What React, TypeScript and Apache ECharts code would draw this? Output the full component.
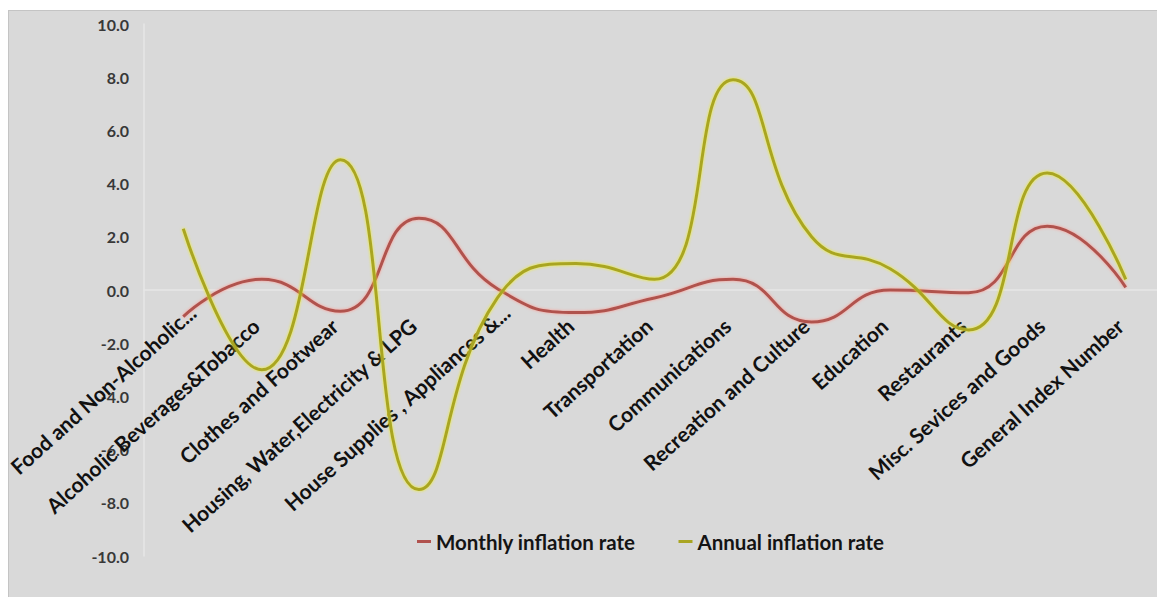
import React, { useEffect, useRef } from "react";
import * as echarts from "echarts";

const categories = [
  "Food and Non-Alcoholic...",
  "Alcoholic Beverages&Tobacco",
  "Clothes and Footwear",
  "Housing, Water,Electricity & LPG",
  "House Supplies , Appliances &...",
  "Health",
  "Transportation",
  "Communications",
  "Recreation and Culture",
  "Education",
  "Restaurants",
  "Misc. Sevices and Goods",
  "General Index Number",
];

const monthlyRate = [-1.0, 0.4, -0.8, 2.7, 0.05, -0.85, -0.3, 0.4, -1.2, 0.0, -0.1, 2.4, 0.1];
const annualRate = [2.3, -3.0, 4.9, -7.5, -0.3, 1.0, 0.4, 7.9, 2.0, 0.8, -1.5, 4.4, 0.4];

const yMin = -10;
const yMax = 10;
const yStep = 2;

export default function App() {
  const ref = useRef<HTMLDivElement>(null);

  useEffect(() => {
    if (!ref.current) return;
    const chart = echarts.init(ref.current, undefined, { renderer: "svg" });
    const gridTop = 13;
    const gridBottom = 41;
    const plotH = 586 - gridTop - gridBottom;
    const zeroOffset = -plotH * ((0 - yMin) / (yMax - yMin));
    // truncated labels (ending in "...") sit a little further along their baseline
    const categoryItems = categories.map((c) =>
      c.endsWith("...") ? { value: c, textStyle: { padding: [0, -12, 0, 0] } } : c
    );
    chart.setOption({
      animation: false,
      backgroundColor: "transparent",
      textStyle: { fontFamily: "Lato" },
      legend: {
        left: 408,
        top: 520,
        padding: 0,
        icon: "rect",
        itemWidth: 14,
        itemHeight: 3,
        itemGap: 43,
        textStyle: { fontFamily: "Lato", fontWeight: "bold", fontSize: 20.5, color: "#141414" },
        data: ["Monthly inflation rate", "Annual inflation rate"],
      },
      grid: { left: 135, right: -8, top: gridTop, bottom: gridBottom, containLabel: false, outerBoundsMode: "none" },
      xAxis: {
        type: "category",
        data: categoryItems,
        boundaryGap: true,
        offset: zeroOffset,
        axisLine: { show: true, onZero: false, lineStyle: { color: "#E6E6E6", width: 1.5 } },
        axisTick: { show: false },
        splitLine: { show: false },
        axisLabel: {
          interval: 0,
          rotate: 42,
          margin: 27,
          padding: [0, 8, 0, 0],
          fontFamily: "Lato",
          fontWeight: "bold",
          fontSize: 21,
          color: "#111111",
        },
      },
      yAxis: {
        type: "value",
        min: yMin,
        max: yMax,
        interval: yStep,
        axisLine: { show: true, lineStyle: { color: "#E6E6E6", width: 1.5 } },
        axisTick: { show: false },
        splitLine: { show: false },
        axisLabel: {
          margin: 15,
          fontFamily: "Lato",
          fontWeight: "bold",
          fontSize: 16,
          color: "#383838",
          formatter: (v: number) => v.toFixed(1),
        },
      },
      series: [
        {
          name: "Monthly inflation rate",
          type: "line",
          data: monthlyRate,
          smooth: 0.5,
          symbol: "none",
          itemStyle: { color: "#B0524E" },
          lineStyle: { color: "#B0524E", width: 3, shadowBlur: 3, shadowColor: "rgba(255,150,140,0.9)" },
        },
        {
          name: "Annual inflation rate",
          type: "line",
          data: annualRate,
          smooth: 0.5,
          symbol: "none",
          itemStyle: { color: "#A9A523" },
          lineStyle: { color: "#A9A523", width: 3, shadowBlur: 3, shadowColor: "rgba(240,240,20,0.9)" },
        },
      ],
    });
    return () => chart.dispose();
  }, []);

  return (
    <div
      style={{
        position: "absolute",
        left: 8,
        top: 10,
        width: 1149,
        height: 587,
        background: "#D9D9D9",
        borderTop: "1px solid #C4C4C4",
        borderLeft: "1px solid #C4C4C4",
        boxSizing: "border-box",
      }}
    >
      <div ref={ref} style={{ width: 1148, height: 586 }} />
    </div>
  );
}
